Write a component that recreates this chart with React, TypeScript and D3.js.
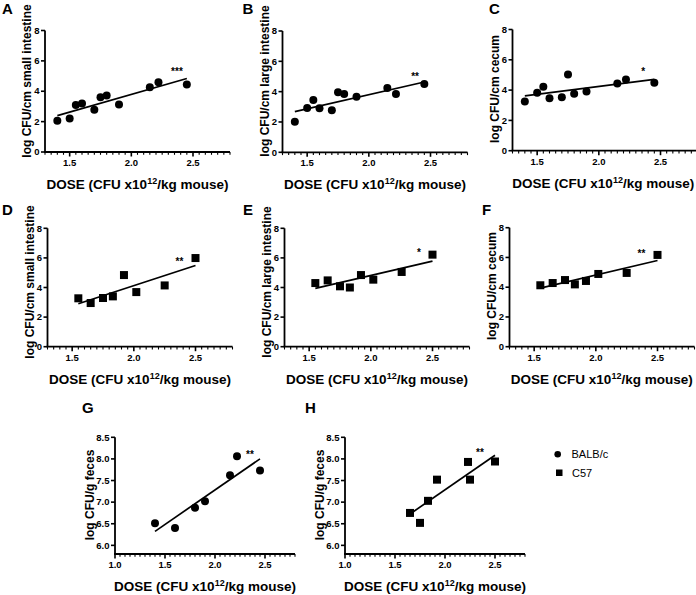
import React from "react";
import * as d3 from "d3";

// ---------- data ----------
const balbDose = [1.4, 1.5, 1.55, 1.6, 1.7, 1.75, 1.8, 1.9, 2.15, 2.22, 2.45];
const balbSmall = [2.05, 2.2, 3.1, 3.2, 2.78, 3.6, 3.72, 3.13, 4.27, 4.6, 4.45];
const balbLarge = [2.01, 2.92, 3.45, 2.9, 2.78, 3.96, 3.85, 3.67, 4.24, 3.85, 4.5];
const balbCecum = [3.25, 3.82, 4.22, 3.47, 3.52, 5.03, 3.76, 3.91, 4.44, 4.7, 4.48];

const c57Dose = [1.55, 1.65, 1.75, 1.83, 1.92, 2.02, 2.25, 2.5];
const c57Small = [3.27, 2.95, 3.29, 3.4, 4.84, 3.69, 4.14, 5.99];
const c57Large = [4.3, 4.48, 4.08, 4.0, 4.84, 4.53, 5.05, 6.22];
const c57Cecum = [4.13, 4.28, 4.48, 4.19, 4.42, 4.89, 4.96, 6.17];

const balbFecesDose = [1.4, 1.6, 1.8, 1.9, 2.15, 2.22, 2.45];
const balbFeces = [6.51, 6.4, 6.87, 7.02, 7.62, 8.06, 7.73];
const c57FecesDose = [1.65, 1.75, 1.83, 1.92, 2.23, 2.25, 2.5];
const c57Feces = [6.75, 6.52, 7.03, 7.52, 7.93, 7.52, 7.94];

const panelLetters = ["A", "B", "C", "D", "E", "F", "G", "H"];
const yTitles = [
  "log CFU/cm small intestine",
  "log CFU/cm large intestine",
  "log CFU/cm cecum",
  "log CFU/cm small intestine",
  "log CFU/cm large intestine",
  "log CFU/cm cecum",
  "log CFU/g feces",
  "log CFU/g feces",
];
const sigLabels = ["***", "**", "*", "**", "*", "**", "**", "**"];
const sigX = [2.37, 2.375, 2.36, 2.37, 2.39, 2.37, 2.35, 2.35];
const sigY = [5.1, 4.8, 5.0, 5.5, 6.1, 6.0, 8.02, 8.07];

const gutXTicks = [1.5, 2.0, 2.5];
const gutYTicks = [0, 2, 4, 6, 8];
const fecesXTicks = [1.0, 1.5, 2.0, 2.5];
const fecesYTicks = [6.0, 6.5, 7.0, 7.5, 8.0, 8.5];

const legendLabels = ["BALB/c", "C57"];

// ---------- layout ----------
const FONT = "'Liberation Sans', Arial, Helvetica, sans-serif";
type Layout = {
  left: number; right: number; top: number; bottom: number;
  lx: number; ly: number; ytc: number;
};
const layouts: Layout[] = [
  { left: 45, right: 230, top: 30.5, bottom: 152, lx: 2, ly: 14, ytc: 81 },
  { left: 282.5, right: 467.5, top: 31, bottom: 152.3, lx: 242.5, ly: 14, ytc: 81 },
  { left: 512.5, right: 697.5, top: 29.5, bottom: 150.7, lx: 489, ly: 14, ytc: 89 },
  { left: 47.5, right: 232.5, top: 228.3, bottom: 346.7, lx: 2, ly: 215, ytc: 282 },
  { left: 284.5, right: 469.5, top: 228.3, bottom: 346.7, lx: 243, ly: 215, ytc: 282 },
  { left: 509.5, right: 694.5, top: 227.7, bottom: 346.7, lx: 482, ly: 215, ytc: 286 },
  { left: 115, right: 295, top: 437.3, bottom: 554, lx: 82, ly: 413, ytc: 495 },
  { left: 345, right: 525, top: 437.3, bottom: 554, lx: 305, ly: 413, ytc: 495 },
];

function regression(xs: number[], ys: number[]) {
  const mx = d3.mean(xs) as number;
  const my = d3.mean(ys) as number;
  let sxy = 0, sxx = 0;
  xs.forEach((x, i) => { sxy += (x - mx) * (ys[i] - my); sxx += (x - mx) * (x - mx); });
  const b = sxy / sxx;
  const a = my - b * mx;
  return (x: number) => a + b * x;
}

type PanelProps = {
  idx: number; xs: number[]; ys: number[]; square: boolean; feces: boolean;
};

function Panel({ idx, xs, ys, square, feces }: PanelProps) {
  const L = layouts[idx];
  const xDomain = feces ? [1.0, 2.8] : [1.3, 2.8];
  const yDomain = feces ? [5.8, 8.5] : [0, 8];
  const x = d3.scaleLinear().domain(xDomain).range([L.left, L.right]);
  const y = d3.scaleLinear().domain(yDomain).range([L.bottom, L.top]);
  const xTicks = feces ? fecesXTicks : gutXTicks;
  const yTicks = feces ? fecesYTicks : gutYTicks;
  const minor = d3.range(Math.round(xDomain[0] * 20), Math.round(xDomain[1] * 20) + 1).map((k) => k / 20);
  const f = regression(xs, ys);
  const x0 = d3.min(xs) as number;
  const x1 = d3.max(xs) as number;
  const line = d3.line<number>().x((d) => x(d)).y((d) => y(f(d)));
  const yFmt = feces ? d3.format(".1f") : d3.format("d");
  const xFmt = d3.format(".1f");
  const cx = (L.left + Math.min(L.right, 694)) / 2;
  return (
    <g>
      <text x={L.lx} y={L.ly} fontSize={15} fontWeight="bold" fontFamily={FONT}>{panelLetters[idx]}</text>
      {/* axes */}
      <line x1={L.left} x2={L.left} y1={L.top} y2={L.bottom} stroke="#000" strokeWidth={1.8} />
      <line x1={L.left - 0.9} x2={L.right} y1={L.bottom} y2={L.bottom} stroke="#000" strokeWidth={1.8} />
      {minor.map((t) => {
        const isMajor = xTicks.some((m) => Math.abs(m - t) < 1e-6);
        return (
          <line key={"m" + t} x1={x(t)} x2={x(t)} y1={L.bottom} y2={L.bottom + (isMajor ? 4.5 : 2.8)}
            stroke="#000" strokeWidth={isMajor ? 1.6 : 1.1} />
        );
      })}
      {xTicks.map((t) => (
        <text key={"xl" + t} x={x(t)} y={L.bottom + 14} fontSize={9.5} fontWeight="bold" fontFamily={FONT}
          textAnchor="middle">{xFmt(t)}</text>
      ))}
      {yTicks.map((t) => (
        <g key={"y" + t}>
          <line x1={L.left - 4} x2={L.left} y1={y(t)} y2={y(t)} stroke="#000" strokeWidth={1.6} />
          <text x={L.left - 5.5} y={y(t) + 3.2} fontSize={9.5} fontWeight="bold" fontFamily={FONT}
            textAnchor="end">{yFmt(t)}</text>
        </g>
      ))}
      {/* titles */}
      <text x={cx} y={L.bottom + 37} fontSize={13.5} fontWeight="bold" fontFamily={FONT} textAnchor="middle">
        DOSE (CFU x10<tspan fontSize={9} dy={-5}>12</tspan><tspan dy={5}>/kg mouse)</tspan>
      </text>
      <text transform={`translate(${L.left - (feces ? 21 : 14)},${L.ytc}) rotate(-90)`} fontSize={12}
        fontWeight="bold" fontFamily={FONT} textAnchor="middle">{yTitles[idx]}</text>
      {/* regression */}
      <path d={line([x0, x1]) as string} stroke="#000" strokeWidth={1.7} fill="none" />
      {/* points */}
      {xs.map((d, i) =>
        square ? (
          <rect key={i} x={x(d) - 4} y={y(ys[i]) - 4} width={8} height={8} fill="#000" />
        ) : (
          <circle key={i} cx={x(d)} cy={y(ys[i])} r={4} fill="#000" />
        )
      )}
      <text x={x(sigX[idx])} y={y(sigY[idx])} fontSize={10} fontWeight="bold" fontFamily={FONT}
        textAnchor="middle">{sigLabels[idx]}</text>
    </g>
  );
}

export default function App() {
  return (
    <svg width={696} height={595} style={{ position: "absolute", left: 0, top: 0, background: "#fff" }}>
      <rect width={696} height={595} fill="#fff" />
      <Panel idx={0} xs={balbDose} ys={balbSmall} square={false} feces={false} />
      <Panel idx={1} xs={balbDose} ys={balbLarge} square={false} feces={false} />
      <Panel idx={2} xs={balbDose} ys={balbCecum} square={false} feces={false} />
      <Panel idx={3} xs={c57Dose} ys={c57Small} square={true} feces={false} />
      <Panel idx={4} xs={c57Dose} ys={c57Large} square={true} feces={false} />
      <Panel idx={5} xs={c57Dose} ys={c57Cecum} square={true} feces={false} />
      <Panel idx={6} xs={balbFecesDose} ys={balbFeces} square={false} feces={true} />
      <Panel idx={7} xs={c57FecesDose} ys={c57Feces} square={true} feces={true} />
      {/* legend */}
      <circle cx={557.7} cy={454.3} r={3.3} fill="#000" />
      <text x={571.5} y={458} fontSize={11} fontFamily={FONT}>{legendLabels[0]}</text>
      <rect x={556} y={469.5} width={6.5} height={6.5} fill="#000" />
      <text x={572} y={477} fontSize={11} fontFamily={FONT}>{legendLabels[1]}</text>
    </svg>
  );
}
